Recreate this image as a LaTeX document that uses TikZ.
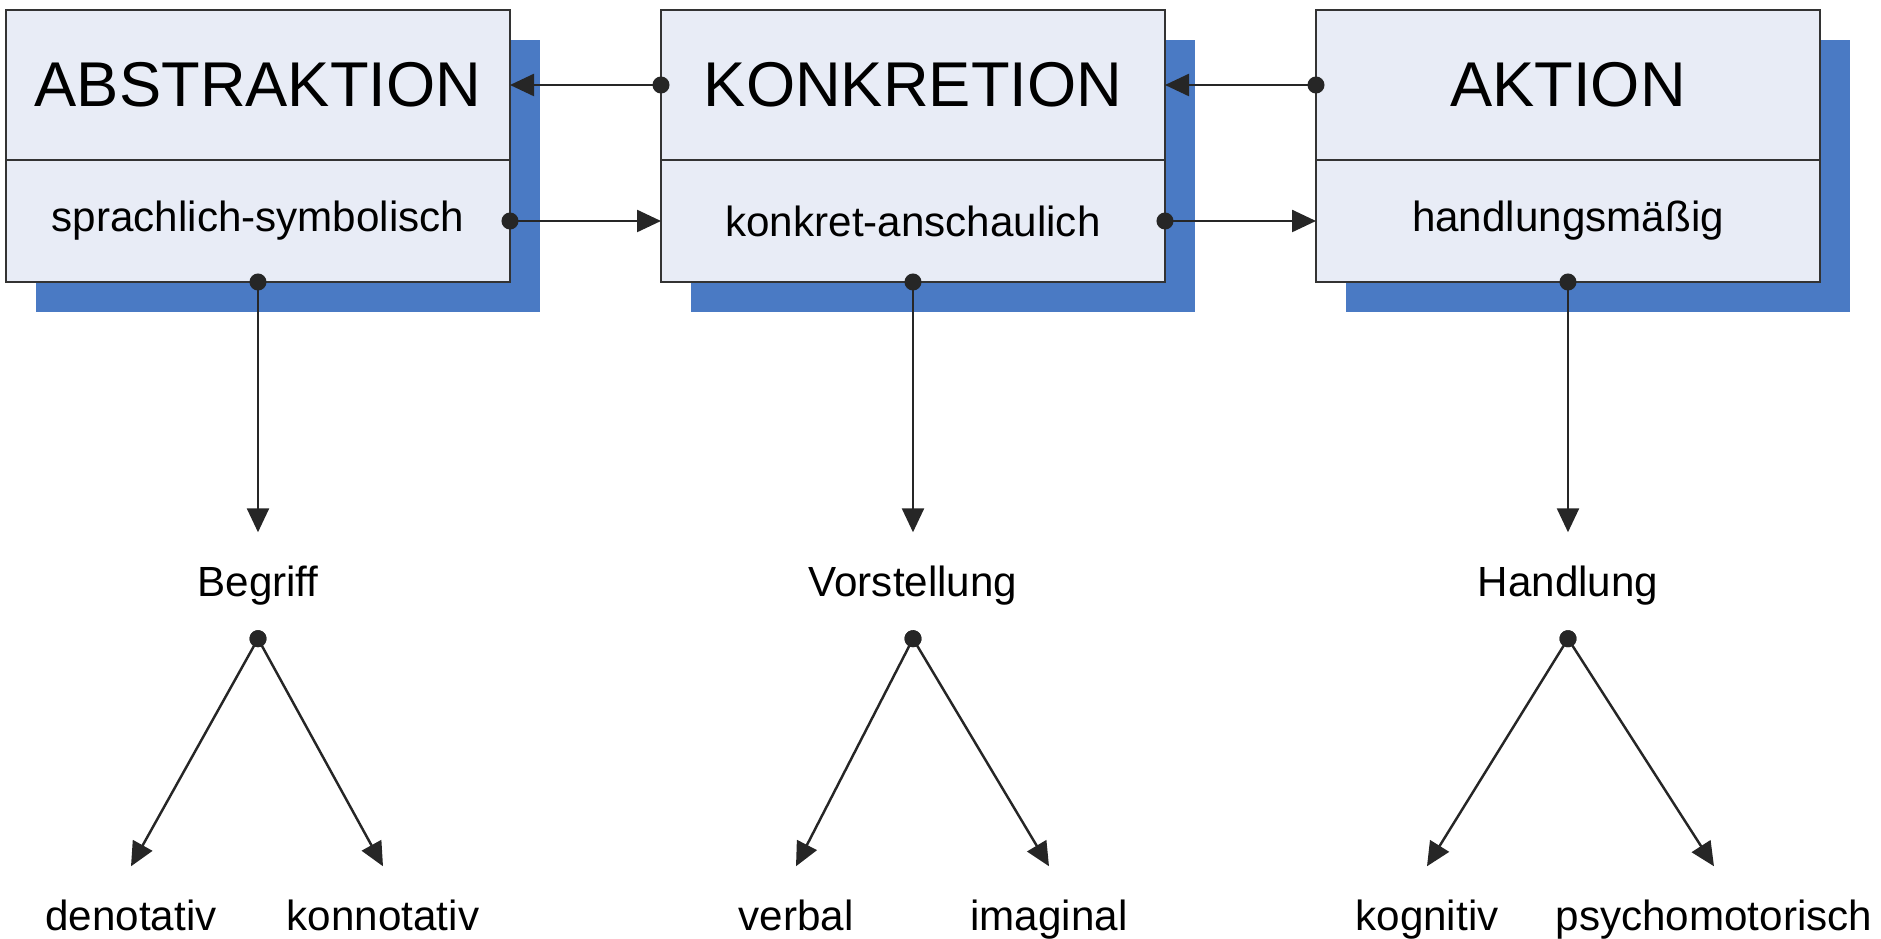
\documentclass[tikz,border=0pt]{standalone}
\usepackage{fontspec}
\setmainfont{Liberation Sans}
\usetikzlibrary{arrows, arrows.meta}
\usetikzlibrary{positioning}
\usetikzlibrary{shadows}
\usepackage{xcolor}

\definecolor{boxfill}{RGB}{232,236,246}
\definecolor{shadowblue}{RGB}{74,122,196}

\tikzset{
  stufe/.style={draw=black!80, line width=0.7pt, fill=boxfill, outer sep=0pt,
    minimum width=5.04cm, minimum height=1.50cm, inner sep=0pt,
    font=\fontsize{18}{20}\selectfont,
    drop shadow={shadow xshift=0.3cm, shadow yshift=-0.3cm, fill=shadowblue, opacity=1}},
  modus/.style={stufe, minimum height=1.22cm, font=\fontsize{12}{14}\selectfont},
  wort/.style={font=\fontsize{12}{14}\selectfont, text height=0.32cm, text depth=0.09cm,
    inner xsep=0pt, inner ysep=0.32cm},
  % dot sits centred on the start point
  pfeil/.style={draw=black!85, line width=0.7pt, shorten <=-0.085cm,
    {Circle[length=0.17cm]}-{Triangle[length=0.24cm,width=0.22cm]}},
}

\begin{document}
\begin{tikzpicture}
\useasboundingbox (0,0) rectangle (18.81,-9.39);

%boxes
\node [stufe] (abs) at (2.58,-0.85) {ABSTRAKTION};
\node [modus, below=0pt of abs] (abssub) {sprachlich-symbolisch};
\node [stufe] (kon) at (9.13,-0.85) {KONKRETION};
\node [modus, below=0pt of kon] (konsub) {konkret-anschaulich};
\node [stufe] (akt) at (15.68,-0.85) {AKTION};
\node [modus, below=0pt of akt] (aktsub) {handlungsmäßig};

%arrows between the boxes
\draw [pfeil] (kon.west) -- (abs.east);
\draw [pfeil] (akt.west) -- (kon.east);
\draw [pfeil] (abssub.east) -- (konsub.west);
\draw [pfeil] (konsub.east) -- (aktsub.west);

%labels
\node [wort] (begr) at (2.58,-5.855) {Begriff};
\node [wort] (vorst) at (9.13,-5.855) {Vorstellung};
\node [wort] (handl) at (15.68,-5.855) {Handlung};

\node [wort] (denot) at (1.31,-9.195) {denotativ};
\node [wort] (konnot) at (3.83,-9.195) {konnotativ};
\node [wort] (verbal) at (7.96,-9.195) {verbal};
\node [wort] (imag) at (10.49,-9.195) {imaginal};
\node [wort] (kogn) at (14.27,-9.195) {kognitiv};
\node [wort] (psych) at (17.14,-9.195) {psychomotorisch};

%arrows down
\draw [pfeil] (abssub.south) -- (begr.north);
\draw [pfeil] (konsub.south) -- (vorst.north);
\draw [pfeil] (aktsub.south) -- (handl.north);

\draw [pfeil] (begr.south) -- (denot.north);
\draw [pfeil] (begr.south) -- (konnot.north);
\draw [pfeil] (vorst.south) -- (verbal.north);
\draw [pfeil] (vorst.south) -- (imag.north);
\draw [pfeil] (handl.south) -- (kogn.north);
\draw [pfeil] (handl.south) -- (psych.north);

\end{tikzpicture}
\end{document}
